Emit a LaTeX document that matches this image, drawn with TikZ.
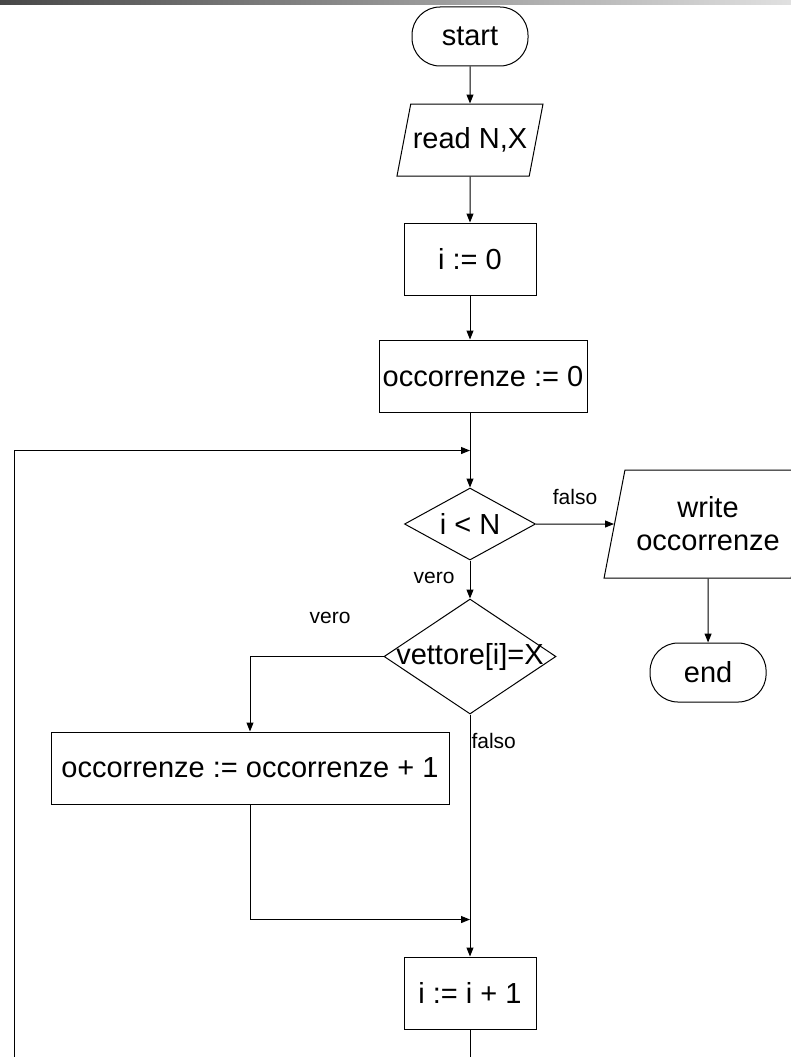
\documentclass[tikz,border=0pt]{standalone}
\usepackage{fontspec}
\setmainfont{Liberation Sans}
\usetikzlibrary{arrows.meta,positioning,shapes.geometric}

\begin{document}
\begin{tikzpicture}[
  x=1pt, y=-1pt,
  font=\fontsize{29}{33}\selectfont, line width=1pt,
  term/.style={draw, rounded corners=28pt, minimum width=116pt, minimum height=59pt, inner sep=2pt},
  proc/.style={draw, minimum width=132pt, minimum height=72pt, inner sep=2pt},
  io/.style={draw, trapezium, trapezium left angle=78, trapezium right angle=102, trapezium stretches body, minimum width=146pt, minimum height=72pt, align=center, inner xsep=2pt, inner ysep=20pt},
  dec/.style={draw, diamond, aspect=2, inner sep=0pt, minimum width=131pt, minimum height=72pt},
  lbl/.style={font=\fontsize{21}{24}\selectfont, inner sep=1pt},
  arr/.style={-{Triangle[length=9pt, width=7pt]}},
]
\useasboundingbox (0,0) rectangle (791,1057);
\clip (0,0) rectangle (791,1057);
\shade[left color=black!72, right color=black!12] (0,0) rectangle (791,4.5);

\node[term] (start) at (470,36.5) {start};
\node[io, below=37pt of start] (read) {read N,X};
\node[proc, below=46pt of read] (init) {i := 0};
\node[proc, below=44pt of init, xshift=13pt, minimum width=208pt] (zero) {occorrenze := 0};
\node[dec, below=75pt of zero, xshift=-13pt] (cond) {i < N};
\node[dec, below=38pt of cond, minimum width=172pt, minimum height=115pt] (match) {\makebox[0pt]{vettore[i]=X}};
\node[proc, below=242pt of match] (incr) {i := i + 1};
\node[proc, minimum width=398pt] (add) at (250,768) {occorrenze := occorrenze + 1};
\node[io, right=78pt of cond, minimum width=208pt, minimum height=108pt, inner ysep=22pt] (out) {write\\occorrenze};
\node[term, below=64pt of out] (end) {end};
\coordinate[above=37pt of cond] (back);
\coordinate[above=37pt of incr] (merge);
\coordinate (low) at (14,1090);

\draw[arr] (start) -- (read);
\draw[arr] (read) -- (init);
\draw[arr] (init) -- (init |- zero.north);
\draw[arr] (cond |- zero.south) -- (cond);
\draw[arr] (cond) -- node[lbl, above=18pt]{falso} (out);
\draw[arr] (out) -- (end);
\draw[arr] (cond) -- node[lbl, left=14pt, pos=0.45]{vero} (match);
\draw[arr] (match.west) -| node[lbl, above=31pt, pos=0.2]{vero} (add);
\draw[arr] (match) -- node[lbl, right, pos=0.11]{falso} (incr);
\draw[arr] (add) |- (merge);
\draw[arr] (incr) |- (low) |- (back);
\end{tikzpicture}
\end{document}
